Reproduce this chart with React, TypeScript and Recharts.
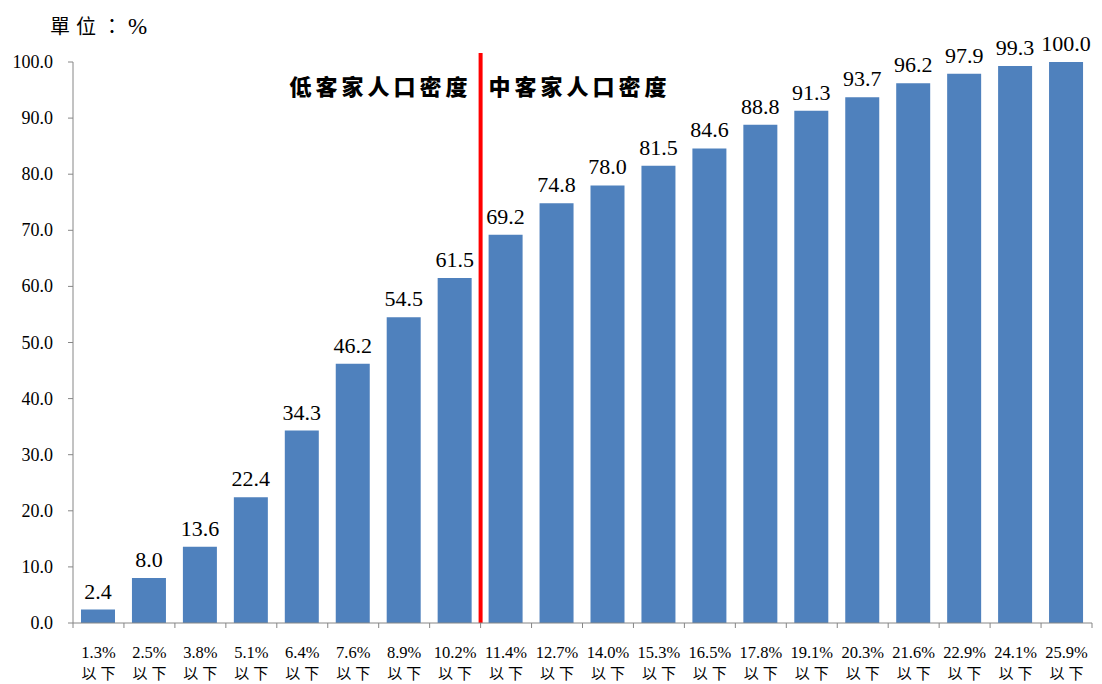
import React from 'react';
import { BarChart, Bar, XAxis, YAxis, LabelList, ReferenceLine } from 'recharts';

const categories = ['1.3%', '2.5%', '3.8%', '5.1%', '6.4%', '7.6%', '8.9%', '10.2%', '11.4%', '12.7%', '14.0%', '15.3%', '16.5%', '17.8%', '19.1%', '20.3%', '21.6%', '22.9%', '24.1%', '25.9%'];
const values = [2.4, 8.0, 13.6, 22.4, 34.3, 46.2, 54.5, 61.5, 69.2, 74.8, 78.0, 81.5, 84.6, 88.8, 91.3, 93.7, 96.2, 97.9, 99.3, 100.0];
const yTicks = [0, 10, 20, 30, 40, 50, 60, 70, 80, 90, 100];
const tickSuffix = '以下';
const unitLabel = '單位：';
const unitSymbol = '%';
const lowLabel = '低客家人口密度';
const midLabel = '中客家人口密度';
const dividerCategory = '10.2%';

const data = categories.map((c, i) => ({ name: c, value: values[i] }));

const SERIF = "'Liberation Serif', 'Times New Roman', serif";
const CJK = "'Noto Sans CJK TC', 'Noto Sans CJK SC', sans-serif";

const XTick = (props: any) => {
  const { x, y, payload, index } = props;
  const off = payload.offset || 0;
  const last = index === categories.length - 1;
  return (
    <g>
      <line x1={x - off} x2={x - off} y1={y} y2={y + 5} stroke="#868686" strokeWidth={1} />
      {last && <line x1={x + off} x2={x + off} y1={y} y2={y + 5} stroke="#868686" strokeWidth={1} />}
      <text x={x} y={y + 35} textAnchor="middle" style={{ fontFamily: SERIF }} fontSize={16.5} fill="#000">
        {payload.value}
      </text>
      <text x={x + 2} y={y + 56} textAnchor="middle" style={{ fontFamily: CJK }} fontSize={15} letterSpacing={4} fill="#000">
        {tickSuffix}
      </text>
    </g>
  );
};

const YTick = (props: any) => {
  const { x, y, payload } = props;
  return (
    <text x={x} y={y + 6} textAnchor="end" style={{ fontFamily: SERIF }} fontSize={18} fill="#000">
      {Number(payload.value).toFixed(1)}
    </text>
  );
};

const ValueLabel = (props: any) => {
  const { x, y, width, value } = props;
  return (
    <text x={x + width / 2} y={y - 11} textAnchor="middle" style={{ fontFamily: SERIF }} fontSize={22} fill="#000">
      {Number(value).toFixed(1)}
    </text>
  );
};

const DividerLabel = (props: any) => {
  const vb = props.viewBox || {};
  const x = vb.x;
  const y = vb.y;
  return (
    <g>
      <text x={x - 9} y={y + 42} textAnchor="end" style={{ fontFamily: CJK }} fontWeight={900} fontSize={22} letterSpacing={4} fill="#000">
        {lowLabel}
      </text>
      <text x={x + 8} y={y + 42} textAnchor="start" style={{ fontFamily: CJK }} fontWeight={900} fontSize={22} letterSpacing={4} fill="#000">
        {midLabel}
      </text>
    </g>
  );
};

export default function App() {
  return (
    <div style={{ position: 'relative', width: 1094, height: 676 }}>
      <div style={{ position: 'absolute', left: 42, top: 3, fontSize: 20, color: '#000', whiteSpace: 'nowrap' }}>
        <span style={{ fontFamily: CJK, letterSpacing: 6 }}>{unitLabel}</span>
        <span style={{ fontFamily: SERIF, fontSize: 23 }}>{unitSymbol}</span>
      </div>
      <BarChart width={1094} height={676} data={data} margin={{ top: 54, right: 10, left: 0, bottom: 1 }}>
        <XAxis
          dataKey="name"
          height={60}
          tickLine={false}
          tickSize={0}
          tickMargin={0}
          axisLine={{ stroke: '#868686' }}
          tick={<XTick />}
          interval={0}
        />
        <YAxis
          width={65}
          domain={[0, 100]}
          ticks={yTicks}
          interval={0}
          axisLine={{ stroke: '#868686' }}
          tickLine={{ stroke: '#868686' }}
          tickSize={5}
          tickMargin={15}
          tick={<YTick />}
        />
        <Bar dataKey="value" fill="#4F81BD" barSize={34} isAnimationActive={false}>
          <LabelList dataKey="value" content={<ValueLabel />} />
        </Bar>
        <ReferenceLine
          segment={[{ x: dividerCategory, y: 0 }, { x: dividerCategory, y: 101.6 }]}
          position="end"
          ifOverflow="visible"
          stroke="#FF0000"
          strokeWidth={4}
          label={<DividerLabel />}
        />
      </BarChart>
    </div>
  );
}
